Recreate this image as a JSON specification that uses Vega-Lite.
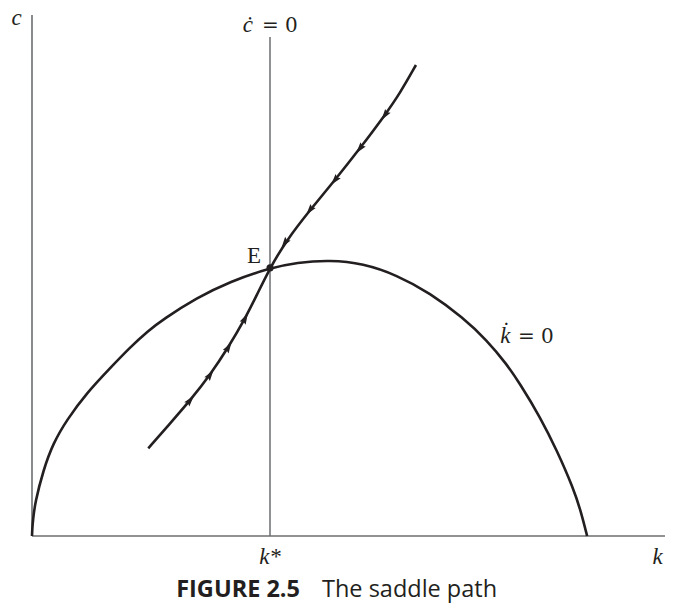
{
  "$schema": "https://vega.github.io/schema/vega-lite/v6.json",
  "width": 681,
  "height": 615,
  "autosize": {"type": "fit", "contains": "padding"},
  "padding": 0,
  "background": "white",
  "config": {"view": {"stroke": null}},
  "datasets": {
    "axes": [
      {"k": 0, "c": 0, "k2": 0, "c2": 100},
      {"k": 0, "c": 0, "k2": 100, "c2": 0}
    ],
    "cdot": [
      {"k": 37.6, "c": 0, "k2": 37.6, "c2": 95.78}
    ],
    "kdot": [
      {"k": 0, "c": 0},
      {"k": 0.05, "c": 1.5},
      {"k": 0.16, "c": 3.07},
      {"k": 0.47, "c": 6.33},
      {"k": 1.79, "c": 12.67},
      {"k": 3.36, "c": 17.85},
      {"k": 5.48, "c": 22.26},
      {"k": 8.64, "c": 27.45},
      {"k": 12.32, "c": 32.2},
      {"k": 15.48, "c": 36.2},
      {"k": 18.33, "c": 39.35},
      {"k": 20.74, "c": 41.6},
      {"k": 26.02, "c": 45.7},
      {"k": 31.28, "c": 48.86},
      {"k": 37.6, "c": 51.44},
      {"k": 41.82, "c": 52.5},
      {"k": 47.08, "c": 52.98},
      {"k": 52.29, "c": 52.3},
      {"k": 57.61, "c": 50.1},
      {"k": 62.88, "c": 46.64},
      {"k": 68.09, "c": 41.9},
      {"k": 71.83, "c": 37.62},
      {"k": 74.99, "c": 33.0},
      {"k": 77.09, "c": 29.2},
      {"k": 80.25, "c": 22.9},
      {"k": 82.89, "c": 16.51},
      {"k": 85.51, "c": 9.2},
      {"k": 86.7, "c": 4.8},
      {"k": 87.7, "c": 0}
    ],
    "saddle": [
      {"k": 18.37, "c": 16.83},
      {"k": 21.8, "c": 21.6},
      {"k": 24.96, "c": 26.0},
      {"k": 28.12, "c": 30.9},
      {"k": 31.01, "c": 36.2},
      {"k": 33.65, "c": 41.7},
      {"k": 35.5, "c": 46.2},
      {"k": 37.6, "c": 51.46},
      {"k": 40.24, "c": 56.81},
      {"k": 43.92, "c": 62.57},
      {"k": 47.87, "c": 68.33},
      {"k": 51.82, "c": 74.41},
      {"k": 55.77, "c": 80.81},
      {"k": 58.14, "c": 85.0},
      {"k": 60.66, "c": 90.4}
    ],
    "arrows": [
      {"k": 24.96, "c": 26.0, "heading": 40},
      {"k": 28.12, "c": 30.9, "heading": 35},
      {"k": 31.01, "c": 36.2, "heading": 31},
      {"k": 33.65, "c": 41.7, "heading": 28},
      {"k": 39.97, "c": 56.3, "heading": 215},
      {"k": 43.92, "c": 62.57, "heading": 218},
      {"k": 47.87, "c": 68.33, "heading": 219},
      {"k": 51.82, "c": 74.41, "heading": 218},
      {"k": 55.77, "c": 80.81, "heading": 215}
    ],
    "eq": [
      {"k": 37.6, "c": 51.46}
    ],
    "italicLabels": [
      {"k": -2.45, "c": 98.08, "label": "c"},
      {"k": 34.12, "c": 96.74, "label": "ċ"},
      {"k": 74.8, "c": 37.1, "label": "k̇"},
      {"k": 37.6, "c": -5.37, "label": "k*"},
      {"k": 98.82, "c": -5.37, "label": "k"}
    ],
    "eqLabels": [
      {"k": 36.33, "c": 96.74, "label": "= 0"},
      {"k": 76.78, "c": 37.1, "label": "= 0"}
    ],
    "pointLabels": [
      {"k": 35.07, "c": 52.34, "label": "E"}
    ],
    "captionBold": [
      {"k": 42.34, "c": -11.71, "label": "FIGURE 2.5"}
    ],
    "captionText": [
      {"k": 45.81, "c": -11.71, "label": "The saddle path"}
    ]
  },
  "encoding": {
    "x": {"field": "k", "type": "quantitative", "scale": {"domain": [-5.055, 102.53], "nice": false, "zero": false}, "axis": null},
    "y": {"field": "c", "type": "quantitative", "scale": {"domain": [-15.163, 102.879], "nice": false, "zero": false}, "axis": null}
  },
  "layer": [
    {
      "data": {"name": "axes"},
      "mark": {"type": "rule", "color": "#6d6e71", "strokeWidth": 1.6},
      "encoding": {"x2": {"field": "k2"}, "y2": {"field": "c2"}}
    },
    {
      "data": {"name": "cdot"},
      "mark": {"type": "rule", "color": "#6d6e71", "strokeWidth": 1.5},
      "encoding": {"x2": {"field": "k2"}, "y2": {"field": "c2"}}
    },
    {
      "data": {"name": "kdot"},
      "mark": {"type": "line", "color": "#231f20", "strokeWidth": 2.6, "interpolate": "basis"},
      "encoding": {"order": {"field": "k", "type": "quantitative"}}
    },
    {
      "data": {"name": "saddle"},
      "mark": {"type": "line", "color": "#231f20", "strokeWidth": 2.6, "interpolate": "basis"},
      "encoding": {"order": {"field": "k", "type": "quantitative"}}
    },
    {
      "data": {"name": "arrows"},
      "mark": {"type": "point", "shape": "M0,-5.5L-3,4.5L0,3L3,4.5Z", "filled": true, "color": "#231f20", "opacity": 1, "strokeWidth": 0},
      "encoding": {
        "angle": {"field": "heading", "type": "quantitative", "scale": null},
        "size": {"value": 5}
      }
    },
    {
      "data": {"name": "eq"},
      "mark": {"type": "point", "shape": "circle", "filled": true, "color": "#231f20", "opacity": 1},
      "encoding": {"size": {"value": 50}}
    },
    {
      "data": {"name": "italicLabels"},
      "mark": {"type": "text", "font": "Liberation Serif", "fontStyle": "italic", "fontSize": 23, "align": "center", "baseline": "alphabetic", "color": "#231f20"},
      "encoding": {"text": {"field": "label"}}
    },
    {
      "data": {"name": "eqLabels"},
      "mark": {"type": "text", "font": "DejaVu Serif", "fontSize": 20, "align": "left", "baseline": "alphabetic", "color": "#231f20"},
      "encoding": {"text": {"field": "label"}}
    },
    {
      "data": {"name": "pointLabels"},
      "mark": {"type": "text", "font": "Liberation Serif", "fontSize": 23, "align": "center", "baseline": "alphabetic", "color": "#231f20"},
      "encoding": {"text": {"field": "label"}}
    },
    {
      "data": {"name": "captionBold"},
      "mark": {"type": "text", "font": "Open Sans", "fontWeight": "bold", "fontSize": 23.5, "align": "right", "baseline": "alphabetic", "color": "#231f20"},
      "encoding": {"text": {"field": "label"}}
    },
    {
      "data": {"name": "captionText"},
      "mark": {"type": "text", "font": "Open Sans", "fontSize": 23.5, "align": "left", "baseline": "alphabetic", "color": "#231f20"},
      "encoding": {"text": {"field": "label"}}
    }
  ]
}
